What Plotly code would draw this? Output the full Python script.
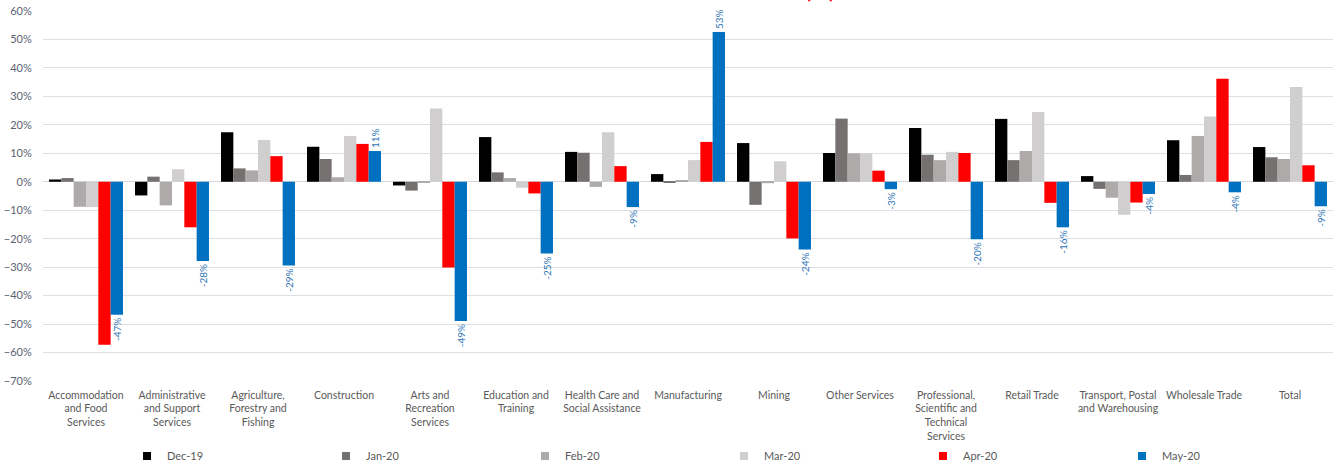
import plotly.graph_objects as go

# Industry categories (x-axis tick labels, line-wrapped)
industries = [
    "Accommodation<br>and Food<br>Services",
    "Administrative<br>and Support<br>Services",
    "Agriculture,<br>Forestry and<br>Fishing",
    "Construction",
    "Arts and<br>Recreation<br>Services",
    "Education and<br>Training",
    "Health Care and<br>Social Assistance",
    "Manufacturing",
    "Mining",
    "Other Services",
    "Professional,<br>Scientific and<br>Technical<br>Services",
    "Retail Trade",
    "Transport, Postal<br>and Warehousing",
    "Wholesale Trade",
    "Total",
]

# Monthly change by industry, in percent
dec_19 = [0.8, -4.8, 17.4, 12.3, -1.3, 15.7, 10.5, 2.7, 13.6, 10.1, 18.9, 22.1, 2.0, 14.6, 12.2]
jan_20 = [1.3, 1.8, 4.7, 8.0, -3.1, 3.3, 10.2, -0.3, -8.1, 22.2, 9.5, 7.6, -2.5, 2.4, 8.6]
feb_20 = [-8.8, -8.3, 4.0, 1.6, -0.2, 1.3, -1.8, 0.6, -0.5, 10.0, 7.6, 10.8, -5.6, 16.1, 8.0]
mar_20 = [-8.9, 4.4, 14.7, 16.1, 25.7, -2.1, 17.4, 7.6, 7.2, 10.0, 10.5, 24.5, -11.6, 22.9, 33.3]
apr_20 = [-57.3, -16.0, 9.0, 13.3, -30.1, -4.1, 5.5, 14.0, -19.9, 3.9, 10.1, -7.4, -7.3, 36.2, 5.8]
may_20 = [-46.7, -27.8, -29.4, 10.8, -48.9, -25.2, -8.9, 52.6, -23.8, -2.6, -20.2, -16.0, -4.3, -3.7, -8.6]

months = ["Dec-19", "Jan-20", "Feb-20", "Mar-20", "Apr-20", "May-20"]
series = [dec_19, jan_20, feb_20, mar_20, apr_20, may_20]
colors = ["#000000", "#767171", "#AEAAAA", "#D0CECE", "#FF0000", "#0070C0"]

FONT = "Lato"
TEXT_GREY = "#595959"

fig = go.Figure()
for name, vals, col in zip(months, series, colors):
    labelled = name == "May-20"
    fig.add_trace(go.Bar(
        x=industries,
        y=vals,
        name=name,
        legendgroup=name,
        showlegend=False,
        marker=dict(color=col, line=dict(width=0)),
        texttemplate="%{y:.0f}%" if labelled else None,
        textposition="outside" if labelled else "none",
        textangle=-90,
        constraintext="none",
        textfont=dict(family=FONT, size=10, color="#2E75B6"),
        cliponaxis=False,
        hoverinfo="x+y+name",
    ))

# Small square legend keys, one per month
for name, col in zip(months, colors):
    fig.add_trace(go.Scatter(
        x=[None], y=[None],
        mode="markers",
        name=name,
        legendgroup=name,
        marker=dict(symbol="square", size=8, color=col),
        showlegend=True,
    ))

plot_w = 1335 - 43 - 2
plot_h = 463 - 11 - 82

fig.update_layout(
    width=1335,
    height=463,
    margin=dict(l=43, r=2, t=11, b=82, autoexpand=False),
    paper_bgcolor="white",
    plot_bgcolor="white",
    barmode="group",
    bargap=0.14,
    bargroupgap=0,
    uniformtext=dict(mode=False),
    font=dict(family=FONT, size=11, color=TEXT_GREY),
    showlegend=True,
    legend=dict(
        orientation="h",
        xref="paper",
        yref="paper",
        x=(127 - 43) / plot_w,
        xanchor="left",
        y=-(456 - 381) / plot_h,
        yanchor="middle",
        entrywidth=154,
        entrywidthmode="pixels",
        itemwidth=30,
        bgcolor="rgba(0,0,0,0)",
        font=dict(family=FONT, size=11, color=TEXT_GREY),
        traceorder="normal",
    ),
    xaxis=dict(
        showgrid=False,
        showline=False,
        ticks="outside",
        ticklen=4,
        tickcolor="rgba(0,0,0,0)",
        tickangle=0,
        tickfont=dict(family=FONT, size=10.5, color=TEXT_GREY),
        automargin=False,
    ),
    yaxis=dict(
        range=[-70, 60],
        dtick=10,
        tick0=0,
        ticksuffix="%",
        showgrid=True,
        gridcolor="#DCDFE4",
        gridwidth=1,
        zeroline=True,
        zerolinecolor="#D4D8DE",
        zerolinewidth=1,
        ticks="outside",
        ticklen=8,
        tickcolor="rgba(0,0,0,0)",
        tickfont=dict(family=FONT, size=11, color="#5A6272"),
        automargin=False,
    ),
)

# Chart heading sits mostly above the visible area; only its tail shows
fig.add_annotation(
    text="<b>(%)</b>",
    xref="paper", yref="paper",
    x=(820 - 43) / plot_w, y=1 + 11 / plot_h,
    xanchor="center", yanchor="bottom",
    yshift=-5,
    showarrow=False,
    font=dict(family=FONT, size=22, color="#FF0000"),
)

fig.write_html("out.html")
